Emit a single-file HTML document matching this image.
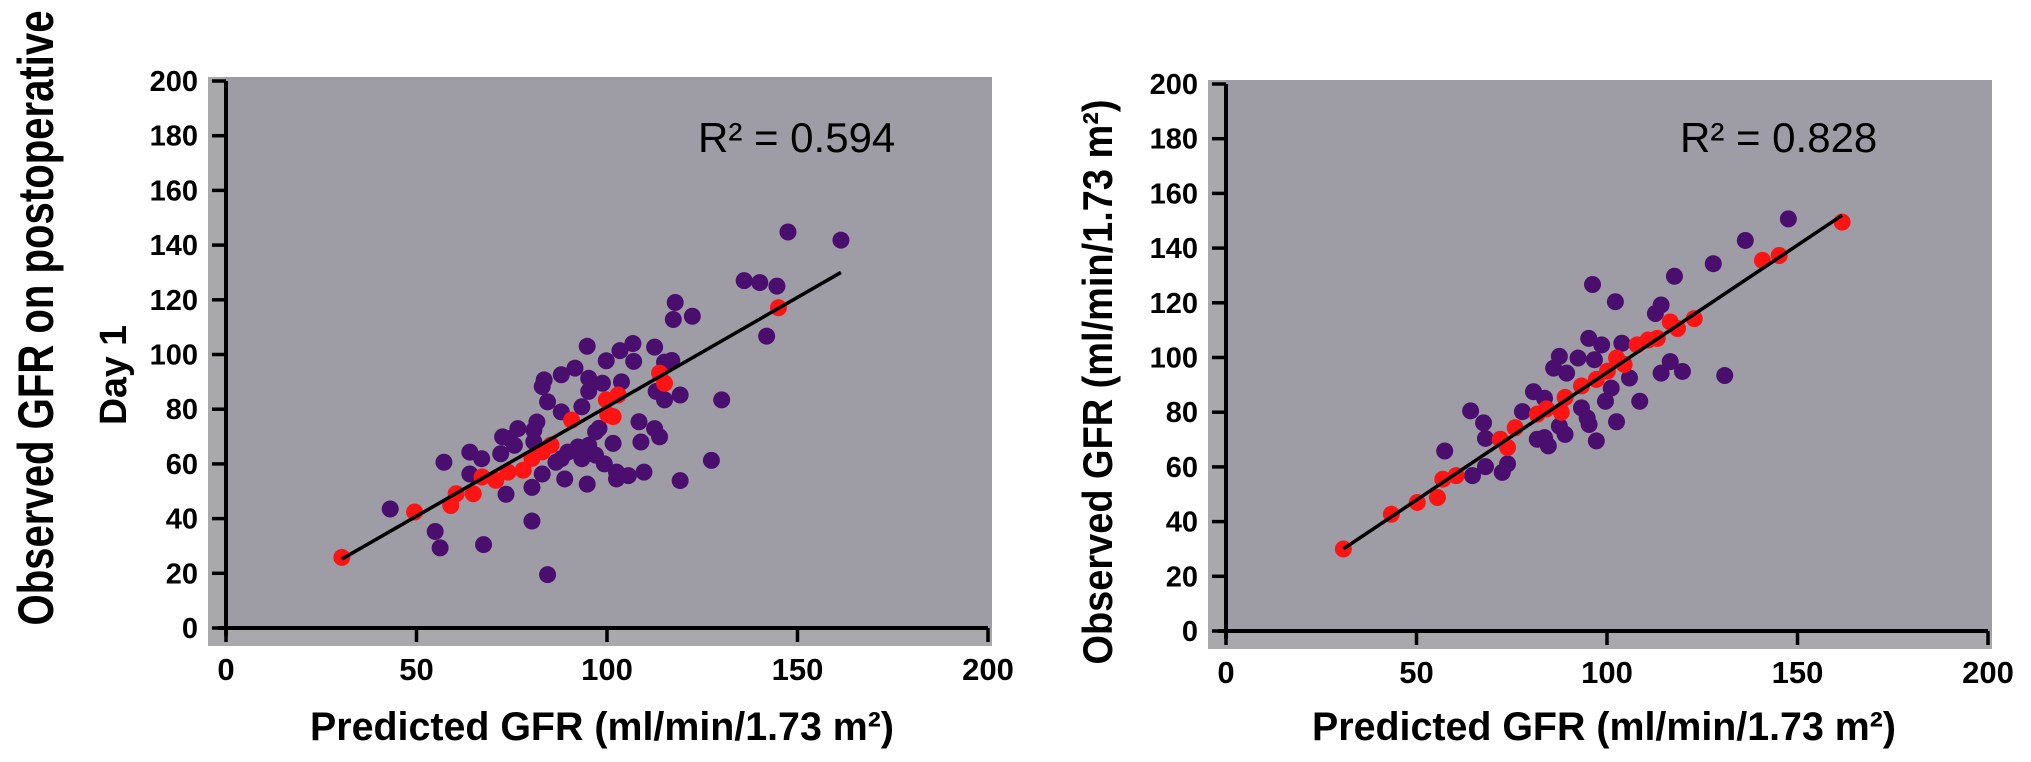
<!DOCTYPE html>
<html><head><meta charset="utf-8"><style>
html,body{margin:0;padding:0;background:#fff;}
svg{display:block;font-family:"Liberation Sans",sans-serif;}
</style></head><body>
<svg id="chart" width="2031" height="762" viewBox="0 0 2031 762" xmlns="http://www.w3.org/2000/svg">
<text transform="translate(53,318) rotate(-90)" text-anchor="middle" font-size="50" font-weight="bold" textLength="615" lengthAdjust="spacingAndGlyphs">Observed GFR on postoperative</text>
<text transform="translate(126,375) rotate(-90)" text-anchor="middle" font-size="38" font-weight="bold" textLength="100" lengthAdjust="spacingAndGlyphs">Day 1</text>
<text transform="translate(1112,382) rotate(-90)" text-anchor="middle" font-size="42" font-weight="bold" textLength="565" lengthAdjust="spacingAndGlyphs">Observed GFR (ml/min/1.73 m²)</text>
<text x="602" y="740" text-anchor="middle" font-size="40" font-weight="bold" textLength="584" lengthAdjust="spacingAndGlyphs">Predicted GFR (ml/min/1.73 m²)</text>
<text x="1604" y="740" text-anchor="middle" font-size="40" font-weight="bold" textLength="584" lengthAdjust="spacingAndGlyphs">Predicted GFR (ml/min/1.73 m²)</text>
<g id="panels"></g>
</svg>
<script>
// Left panel data (Predicted vs Observed, day 1)
const leftPurpleX=[147.5,161.4,136,140.1,144.6,141.9,117.9,117.4,122.4,94.8,106.8,112.5,117,103.4,99.8,107,91.6,88,83.5,83,95.2,95.2,98.8,103.8,84.4,93.4,88,112.9,115.1,119.2,130.1,81.6,76.6,72.6,64,67.1,72.1,57.2,64,73.5,80.3,83,88.9,88,93.4,94.8,95.2,97,99.3,101.6,97.9,108.4,112.5,113.8,108.9,102.5,105.6,109.7,102.5,119.2,127.4,43.1,54.9,56.2,67.6,80.3,84.4,74.4,80.8,86.6,89.7,92.4,97,75.7,80.8,115.1];
const leftPurpleY=[144.8,141.8,127,126.3,125,106.7,119,112.8,114,103,104,102.7,97.8,101.4,97.7,97.5,95,92.6,90.7,88.3,91.3,86.5,89.5,90,82.7,80.9,79,86.5,83.4,85.2,83.4,75.3,72.9,69.9,64.3,61.9,63.7,60.6,56.3,48.9,51.4,56.3,54.5,61.9,61.9,52.6,66.8,63.2,60,67.5,73,75.4,72.9,69.9,68,57,55.7,57,54.5,53.9,61.3,43.5,35.3,29.3,30.5,39.1,19.5,69.3,72.3,60.6,64.3,66.2,71.7,66.8,68.1,97.2];
const leftRedX=[30.4,49.5,59,60.4,64.9,67.2,70.8,74,78,80.3,83,85.3,90.7,99.8,101.6,100.2,102.9,113.8,115.1,145];
const leftRedY=[25.8,42.4,44.8,49.1,49.1,55.2,54,57,57.7,62,64.4,66.9,76,83.4,77.3,78,85.2,93.2,89.5,117.1];
const leftLineX=[30.4,161.4];
const leftLineY=[25.2,130];
// Right panel data
const rightPurpleX=[147.6,136.3,127.9,117.7,96.2,102.2,114.2,112.7,130.9,114.2,116.6,119.8,95.2,98.6,103.9,87.5,92.4,86,89.4,96.7,105.9,80.7,83.6,77.8,64.2,67.6,68.1,57.4,64.7,68.1,72.5,73.9,81.7,84.6,89,94.8,95.3,97.2,102.5,108.6,99.6,93.3,101.1,83.6,87.5];
const rightPurpleY=[150.7,142.8,134.3,129.7,126.7,120.4,119.2,116.1,93.4,94.3,98.5,94.9,107,104.6,105.2,100.4,99.8,96.1,94.3,99.2,92.5,87.5,85.1,80.2,80.5,76.1,70.4,65.8,56.8,60.1,58,61.1,70.1,67.7,71.9,77.9,75.5,69.5,76.5,84,84,81.6,88.8,70.7,74.9];
const rightRedX=[30.8,43.4,50.2,55.5,56.9,60.4,72,75.9,73.9,81.7,84.1,89,88,93.3,97.2,100.1,102.5,104.5,107.9,110.8,113.2,116.6,118.5,122.9,140.8,145.2,161.7];
const rightRedY=[30,42.7,47,48.8,55.5,56.8,70.1,74.3,67.1,79.3,81.2,85.4,80,89.6,92,95,99.8,97.5,104.6,106.4,107,113,110.6,114.2,135.5,137.3,149.5];
const rightLineX=[30.8,161.7];
const rightLineY=[30,152];
const yTicks=[0,20,40,60,80,100,120,140,160,180,200];
const xTicks=[0,50,100,150,200];
const r2Labels=["R² = 0.594","R² = 0.828"];

const NS="http://www.w3.org/2000/svg";
const root=document.getElementById('panels');
function mk(tag,attrs,parent){const e=document.createElementNS(NS,tag);for(const k in attrs)e.setAttribute(k,attrs[k]);(parent||root).appendChild(e);return e;}

function panel(idx,x0,y0,pX,pY,rX,rY,lX,lY,r2x,r2y){
  const pxPer=3.81, pyPer=2.735;
  const sx=v=>x0+v*pxPer, sy=v=>y0-v*pyPer;
  const g=mk('g',{});
  
  
  const top=sy(200)-4, right=sx(200)+4;
  const bg=mk('rect',{x:x0-18,y:top,width:right-(x0-18),height:y0+18-top,fill:'#a9a9ab'},g);
  
  
  const plot=mk('rect',{x:x0,y:top,width:right-x0,height:y0-top,fill:'#9e9ca4'},g);
  
  
  const ya=mk('line',{x1:x0,y1:sy(200),x2:x0,y2:y0+8,stroke:'#000','stroke-width':4},g);
  
  
  const xa=mk('line',{x1:x0-8,y1:y0,x2:sx(200),y2:y0,stroke:'#000','stroke-width':4},g);
  
  
  yTicks.forEach(t=>{
    const tk=mk('line',{x1:x0-14,y1:sy(t),x2:x0,y2:sy(t),stroke:'#000','stroke-width':3.5},g);
    
    
    const tl=mk('text',{x:x0-28,y:sy(t)+10,'text-anchor':'end','font-size':29,'font-weight':'bold'},g);
    tl.textContent=t;
    
    
  });
  xTicks.forEach(t=>{
    const tk=mk('line',{x1:sx(t),y1:y0,x2:sx(t),y2:y0+14,stroke:'#000','stroke-width':3.5},g);
    
    
    const tl=mk('text',{x:sx(t),y:y0+52,'text-anchor':'middle','font-size':31,'font-weight':'bold'},g);
    tl.textContent=t;
    
    
  });
  for(let i=0;i<pX.length;i++){
    const c=mk('circle',{cx:sx(pX[i]),cy:sy(pY[i]),r:8.5,fill:'#4a0e6e'},g);
    
    
  }
  for(let i=0;i<rX.length;i++){
    const c=mk('circle',{cx:sx(rX[i]),cy:sy(rY[i]),r:8.5,fill:'#ff1414'},g);
    
    
  }
  const ln=mk('line',{x1:sx(lX[0]),y1:sy(lY[0]),x2:sx(lX[1]),y2:sy(lY[1]),stroke:'#000','stroke-width':3.5},g);
  
  
  const rt=mk('text',{x:r2x,y:r2y,'font-size':42},g);
  rt.textContent=r2Labels[idx];
  
  
}
panel(0,226,628,leftPurpleX,leftPurpleY,leftRedX,leftRedY,leftLineX,leftLineY,698,152);
panel(1,1226,631,rightPurpleX,rightPurpleY,rightRedX,rightRedY,rightLineX,rightLineY,1680,152);
</script>
</body></html>
